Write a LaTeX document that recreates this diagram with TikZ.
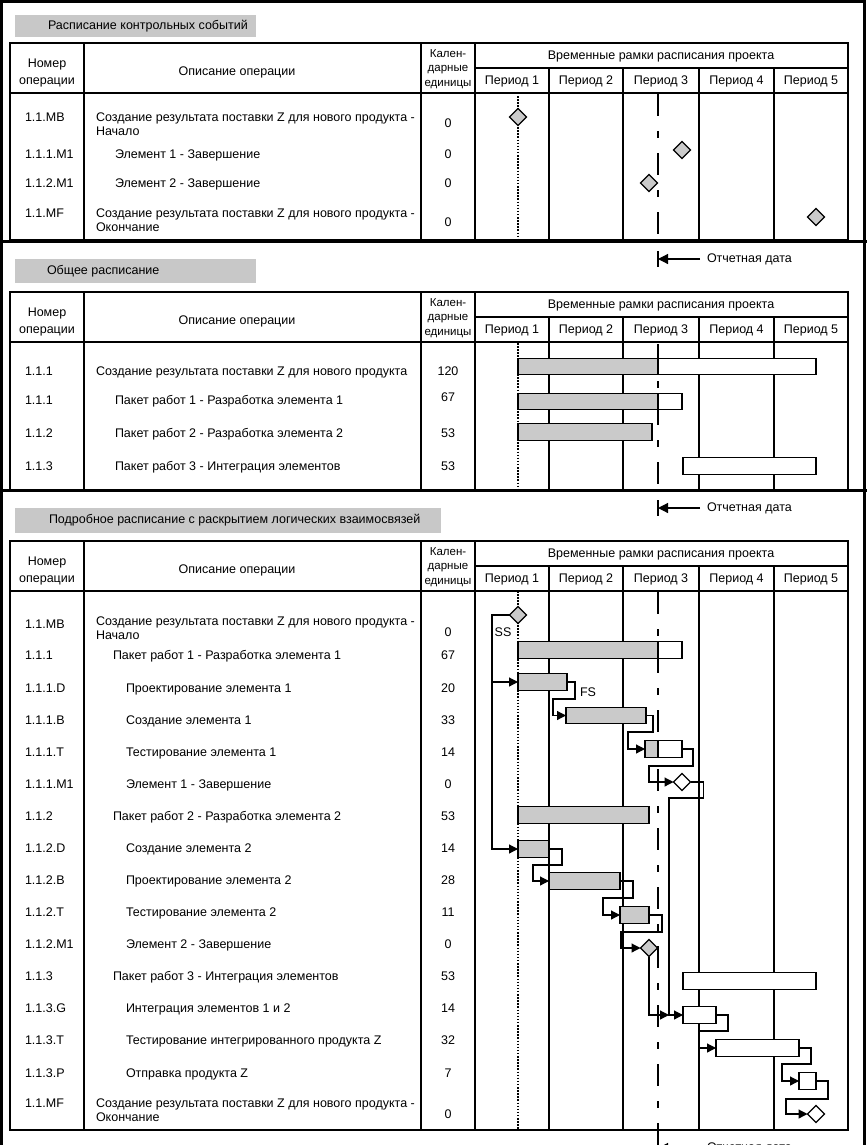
\documentclass[tikz,border=0pt]{standalone}
\usepackage{fontspec}
\setmainfont{Liberation Sans}
\usetikzlibrary{arrows.meta,shapes.geometric}
\definecolor{barg}{HTML}{CACACA}
\definecolor{titleg}{HTML}{C8C8C8}

% table frame: #1 prefix, #2 top, #3 bottom
\newcommand\gtable[3]{%
  \draw[grid] (10,#2) rectangle (848,#3);
  \draw[grid] (84,#2) -- (84,#3);
  \draw[grid] (421,#2) -- (421,#3);
  \draw[grid] (475,#2) -- (475,#3);
  \draw[grid] (475,#2+25) -- (848,#2+25);
  \draw[grid] (10,#2+50) -- (848,#2+50);
  \foreach \x in {549,623,699,774} {\draw[grid] (\x,#2+25) -- (\x,#3);}
  \node[mtxt,align=center] (#1hn) at (47,#2+30) {Номер\\[3.5pt]операции};
  \node[txt] (#1hd) at (237,#2+29) {Описание операции};
  \node[mtxt,align=center,font=\fontsize{11.5}{14.5}\selectfont] (#1hc) at (448,#2+26) {Кален-\\дарные\\единицы};
  \node[txt] (#1ht) at (661,#2+13) {Временные рамки расписания проекта};
  \foreach \i/\x in {1/512,2/586,3/661,4/736.5,5/811} {\node[txt] (#1p\i) at (\x,#2+38) {Период \i};}
}
% partly done bar: name, x1, x2, ymid
\newcommand\pbar[4]{%
  \node[gbar, fill=white, minimum width={(#3-#2)*1pt}] (#1) at (#2,#4) {};
  \fill[barg] (#1.north west) rectangle (#1.south west -| datex);
  \draw[barline] (#1.north west) rectangle (#1.south east);
  \draw[barline] (#1.north -| datex) -- (#1.south -| datex);
}
% simple bar: name, x1, x2, ymid, fill
\newcommand\sbar[5]{\node[gbar, fill=#5, minimum width={(#3-#2)*1pt}] (#1) at (#2,#4) {};}
% finish-to-start link: from, to, dx, xleft, ymid
\newcommand\fsline[5]{\draw[conn] (#1.east) -- ++(#3,0) |- (#4,#5) |- (#2.west);}

\begin{document}
\begin{tikzpicture}[x=1pt,y=-1pt,
  base/.style={font=\fontsize{12.5}{14}\selectfont, inner sep=0pt, outer sep=0pt},
  txt/.style={base, text height=9pt, text depth=2.5pt},
  mtxt/.style={base, align=left},
  grid/.style={line width=1.5pt},
  frame/.style={line width=3pt},
  sep/.style={line width=2.5pt},
  barline/.style={line width=1.3pt},
  gbar/.style={draw, line width=1.3pt, inner sep=0pt, outer sep=0pt, minimum height=16.5pt, anchor=west},
  dmd/.style={diamond, draw, line width=1.3pt, inner sep=0pt, outer sep=0pt, minimum width=17pt, minimum height=17pt},
  conn/.style={line width=1.2pt, -{Triangle[length=9pt,width=9pt]}},
  dotline/.style={line width=1.3pt, dash pattern=on 1.5pt off 1.6pt},
  dashline/.style={line width=1.5pt, dash pattern=on 22pt off 15pt on 7pt off 15pt},
  rdarrow/.style={line width=1.2pt, -{Triangle[length=10pt,width=10pt]}}
]
\useasboundingbox (0,0) rectangle (867,1145);
\clip (0,0) rectangle (867,1145);
\fill[white] (0,0) rectangle (867,1145);
\coordinate (datex) at (658,0);

% outer frame and section separators
\draw[frame] (1.5,1145) -- (1.5,1.5) -- (864.5,1.5) -- (864.5,1145);
\draw[sep] (0,241.5) -- (867,241.5);
\draw[sep] (0,490.5) -- (867,490.5);

% title boxes
\fill[titleg] (15,15) rectangle (256,37);
\node[txt,anchor=west] (title1) at (48,26) {Расписание контрольных событий};
\fill[titleg] (15,259) rectangle (256,283);
\node[txt,anchor=west] (title2) at (47,271) {Общее расписание};
\fill[titleg] (15,508) rectangle (441,533);
\node[txt,anchor=west] (title3) at (49,520) {Подробное расписание с раскрытием логических взаимосвязей};

% report date markers
\foreach \y/\n in {259/rdA,508/rdB,1148/rdC} {
  \coordinate (\n) at (658,\y);
  \coordinate (\n e) at (700,\y);
  \draw[line width=1.5pt] (658,\y-8) -- (658,\y+8);
  \draw[rdarrow] (\n e) -- (\n);
  \node[txt,anchor=west] (\n t) at (707,\y) {Отчетная дата};
}
\draw[line width=1.5pt] (658,1131) -- (658,1140);

% ================= table 1 =================
\gtable{a}{43}{240}
\draw[dotline] (518,93) -- (518,240);
\draw[dashline] (658,94) -- (658,240);
\node[txt,anchor=west] (a1n) at (25,118) {1.1.MB};
\node[mtxt,anchor=west] (a1d) at (96,124) {Создание результата поставки Z для нового продукта -\\Начало};
\node[txt] (a1c) at (448,124) {0};
\node[txt,anchor=west] (a2n) at (25,155) {1.1.1.M1};
\node[txt,anchor=west] (a2d) at (115,155) {Элемент 1 - Завершение};
\node[txt] (a2c) at (448,155) {0};
\node[txt,anchor=west] (a3n) at (25,184) {1.1.2.M1};
\node[txt,anchor=west] (a3d) at (115,184) {Элемент 2 - Завершение};
\node[txt] (a3c) at (448,184) {0};
\node[txt,anchor=west] (a4n) at (25,214) {1.1.MF};
\node[mtxt,anchor=west] (a4d) at (96,220) {Создание результата поставки Z для нового продукта -\\Окончание};
\node[txt] (a4c) at (448,223) {0};
\node[dmd,fill=barg] (aMB) at (518,117) {};
\node[dmd,fill=barg] (aM1) at (682,150) {};
\node[dmd,fill=barg] (aM2) at (649,183) {};
\node[dmd,fill=barg] (aMF) at (816,217) {};

% ================= table 2 =================
\gtable{b}{292}{490}
\draw[dotline] (518,343) -- (518,490);
\draw[dashline] (658,344) -- (658,490);
\node[txt,anchor=west] (b1n) at (25,372) {1.1.1};
\node[txt,anchor=west] (b1d) at (96,372) {Создание результата поставки Z для нового продукта};
\node[txt] (b1c) at (448,372) {120};
\node[txt,anchor=west] (b2n) at (25,401) {1.1.1};
\node[txt,anchor=west] (b2d) at (115,401) {Пакет работ 1 - Разработка элемента 1};
\node[txt] (b2c) at (448,398) {67};
\node[txt,anchor=west] (b3n) at (25,434) {1.1.2};
\node[txt,anchor=west] (b3d) at (115,434) {Пакет работ 2 - Разработка элемента 2};
\node[txt] (b3c) at (448,434) {53};
\node[txt,anchor=west] (b4n) at (25,467) {1.1.3};
\node[txt,anchor=west] (b4d) at (115,467) {Пакет работ 3 - Интеграция элементов};
\node[txt] (b4c) at (448,467) {53};
\pbar{bB1}{518}{816}{366.5}
\pbar{bB2}{518}{682}{401.5}
\sbar{bB3}{518}{652}{432}{barg}
\sbar{bB4}{683}{816}{466}{white}

% ================= table 3 =================
\gtable{c}{541}{1130}
\draw[dotline] (518,591) -- (518,1130);
\draw[dashline] (658,592) -- (658,1130);
\node[txt,anchor=west] (c1n) at (25,625) {1.1.MB};
\node[mtxt,anchor=west] (c1d) at (96,628) {Создание результата поставки Z для нового продукта -\\Начало};
\node[txt] (c1c) at (448,633) {0};
\foreach \n/\num/\x/\desc/\cal/\y in {
  c2/1.1.1/113/{Пакет работ 1 - Разработка элемента 1}/67/656,
  c3/1.1.1.D/126/{Проектирование элемента 1}/20/689,
  c4/1.1.1.B/126/{Создание элемента 1}/33/721,
  c5/1.1.1.T/126/{Тестирование элемента 1}/14/753,
  c6/1.1.1.M1/126/{Элемент 1 - Завершение}/0/785,
  c7/1.1.2/113/{Пакет работ 2 - Разработка элемента 2}/53/817,
  c8/1.1.2.D/126/{Создание элемента 2}/14/849,
  c9/1.1.2.B/126/{Проектирование элемента 2}/28/881,
  c10/1.1.2.T/126/{Тестирование элемента 2}/11/913,
  c11/1.1.2.M1/126/{Элемент 2 - Завершение}/0/945,
  c12/1.1.3/113/{Пакет работ 3 - Интеграция элементов}/53/977,
  c13/1.1.3.G/126/{Интеграция элементов 1 и 2}/14/1009,
  c14/1.1.3.T/126/{Тестирование интегрированного продукта Z}/32/1041,
  c15/1.1.3.P/126/{Отправка продукта Z}/7/1074} {
  \node[txt,anchor=west] (\n n) at (25,\y) {\num};
  \node[txt,anchor=west] (\n d) at (\x,\y) {\desc};
  \node[txt] (\n c) at (448,\y) {\cal};
}
\node[txt,anchor=west] (c16n) at (25,1104) {1.1.MF};
\node[mtxt,anchor=west] (c16d) at (96,1110) {Создание результата поставки Z для нового продукта -\\Окончание};
\node[txt] (c16c) at (448,1115) {0};

% bars
\pbar{cWP1}{518}{682}{650}
\sbar{c1D}{518}{567}{682}{barg}
\sbar{c1B}{566}{646}{715.5}{barg}
\pbar{c1T}{645}{682}{749}
\sbar{cWP2}{518}{649}{815}{barg}
\sbar{c2D}{518}{549}{849}{barg}
\sbar{c2B}{549}{620}{881}{barg}
\sbar{c2T}{620}{649}{915}{barg}
\sbar{cWP3}{683}{816}{981}{white}
\sbar{c3G}{683}{716}{1015}{white}
\sbar{c3T}{716}{799}{1048}{white}
\sbar{c3P}{799}{816}{1081}{white}

% milestones
\node[dmd,fill=barg] (cMB) at (518,615) {};
\node[dmd,fill=white] (cM1) at (682,782) {};
\node[dmd,fill=barg] (cM2) at (649,948) {};
\node[dmd,fill=white] (cMF) at (816,1114) {};

% start-to-start links
\coordinate (ssx) at (492,0);
\draw[conn] (cMB.west) -| (ssx |- c2D.west) -- (c2D.west);
\draw[conn] (ssx |- c1D.west) -- (c1D.west);
\node[txt] (ssl) at (503,633) {SS};

% finish-to-start links
\fsline{c1D}{c1B}{8}{553}{699}
\node[txt] (fsl) at (588,693) {FS};
\fsline{c1B}{c1T}{7}{628}{732}
\fsline{c1T}{cM1}{11}{649}{766}
\fsline{cM1}{c3G}{13}{669}{798}
\coordinate (gjoin) at (669,1015);
\draw[conn] (cM2.south) |- (gjoin);
\fsline{c2D}{c2B}{13}{533}{865}
\fsline{c2B}{c2T}{13}{603}{898}
\fsline{c2T}{cM2}{13}{621}{932}
\fsline{c3G}{c3T}{12}{699}{1031}
\fsline{c3T}{c3P}{12}{782}{1064}
\fsline{c3P}{cMF}{12}{786}{1099}
\end{tikzpicture}
\end{document}
